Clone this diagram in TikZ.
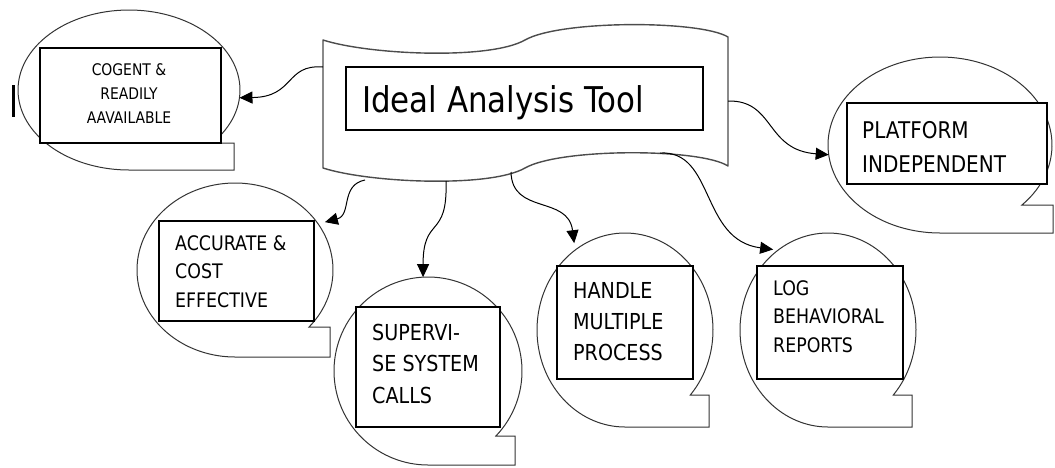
\documentclass[tikz,border=0pt]{standalone}
\usepackage{fontspec}
\newfontfamily\tah{DejaVu Sans}[FakeStretch=0.87]
\usetikzlibrary{arrows.meta,shapes.geometric}

% stacked lines whose baseline is the baseline of the first line
\newcommand\lstack[1]{\vtop{\halign{##\hfil\cr#1\crcr}}}
\newcommand\cstack[1]{\vtop{\halign{\hfil##\hfil\cr#1\crcr}}}

\tikzset{
  oval/.style={ellipse, inner sep=0pt, outer sep=0pt},
  bubble/.style={draw=black!80, line width=1pt},
  scroll/.style={draw=black!70, line width=1.4pt, line join=round},
  box/.style={draw=black, line width=1.2pt, fill=white, inner sep=0pt},
  lbl/.style={inner sep=0pt, text=black},
  link/.style={draw=black, line width=1pt, -{Triangle[length=13pt,width=12pt]}},
}

% oval callout: name, cx, cy, rx, ry, notch y, tail x
\newcommand\callout[7]{%
  \node[oval, minimum width={2*#4pt}, minimum height={2*#5pt}] (#1) at (#2,#3) {};
  \pgfmathsetmacro\tA{asin((#6-#3)/#5)}%
  \draw[bubble] ([shift={(\tA:#4 and #5)}]#1.center)
    arc[start angle=\tA, end angle=-270, x radius=#4, y radius=#5]
    -- (#7,#3+#5) -- (#7,#6) -- cycle;
}

\begin{document}
\begin{tikzpicture}[x=1pt, y=-1pt]
\useasboundingbox (0,0) rectangle (1055,467);

% callout outlines
\callout{cogE}{129}{90}{111}{80}{143}{234}
\callout{platE}{940}{145}{112}{88}{205}{1053}
\callout{accE}{235}{270}{98}{87}{327}{330}
\callout{supE}{428}{371}{94}{94}{436}{515}
\callout{hanE}{625}{330}{88}{97}{395}{709}
\callout{logE}{828}{330}{88}{97}{395}{912}

% central scroll banner
\draw[scroll] (323,40) .. controls (370,55) and (490,60) .. (525,40)
  .. controls (560,20) and (700,20) .. (728,37) -- (728,166)
  .. controls (700,148) and (560,148) .. (525,168)
  .. controls (490,188) and (370,183) .. (323,168) -- cycle;
\node[box, minimum width=357pt, minimum height=63pt] (titleR) at (524.5,98.5) {};
\node[lbl, anchor=base west, font=\tah\fontsize{35.5}{42}\selectfont] (title) at (362,112) {Ideal Analysis Tool};

% connector starts on the banner outline
\coordinate (sCog) at (323,67);
\coordinate (sPlat) at (728,101);
\coordinate (sAcc) at (365,180);
\coordinate (sSup) at (446,181);
\coordinate (sHan) at (511,172);
\coordinate (sLog) at (660,153);

% inner boxes
\node[box, minimum width=181pt, minimum height=95pt] (cogR) at (130.5,95.5) {};
\node[box, minimum width=200pt, minimum height=81pt] (platR) at (947,143.5) {};
\node[box, minimum width=155pt, minimum height=100pt] (accR) at (236.5,271) {};
\node[box, minimum width=144pt, minimum height=120pt] (supR) at (428,367) {};
\node[box, minimum width=136pt, minimum height=113pt] (hanR) at (625,322.5) {};
\node[box, minimum width=146pt, minimum height=113pt] (logR) at (830,322.5) {};

% labels
\node[lbl, anchor=base, font=\tah\fontsize{16}{24}\selectfont] (cogT) at (129,75)
  {\cstack{COGENT \&\cr READILY\cr AAVAILABLE}};
\node[lbl, anchor=base west, font=\tah\fontsize{23}{34}\selectfont] (platT) at (862,138)
  {\lstack{PLATFORM\cr INDEPENDENT}};
\node[lbl, anchor=base west, font=\tah\fontsize{20}{28.5}\selectfont] (accT) at (175,250)
  {\lstack{ACCURATE \&\cr COST\cr EFFECTIVE}};
\node[lbl, anchor=base west, font=\tah\fontsize{22}{31.5}\selectfont] (supT) at (372,340)
  {\lstack{SUPERVI-\cr SE SYSTEM\cr CALLS}};
\node[lbl, anchor=base west, font=\tah\fontsize{22}{31}\selectfont] (hanT) at (573,298)
  {\lstack{HANDLE\cr MULTIPLE\cr PROCESS}};
\node[lbl, anchor=base west, font=\tah\fontsize{20}{28.5}\selectfont] (logT) at (773,295)
  {\lstack{LOG\cr BEHAVIORAL\cr REPORTS}};

% connectors
\draw[link] (sCog) .. controls (285,64) and (295,97) .. (cogE.-4);
\draw[link] (sPlat) .. controls (775,100) and (765,150) .. (platE.185);
\draw[link, shorten >=7pt] (sAcc) .. controls (340,185) and (352,215) .. (accE.29);
\draw[link] (sSup) .. controls (448,240) and (423,215) .. (supE.93);
\draw[link, shorten >=7pt] (sHan) .. controls (512,215) and (568,195) .. (hanE.122);
\draw[link, shorten >=5pt] (sLog) .. controls (715,150) and (700,240) .. (logE.122);

% text cursor mark at the left edge
\draw[line width=3pt] (13,85) -- (13,117);
\end{tikzpicture}
\end{document}
